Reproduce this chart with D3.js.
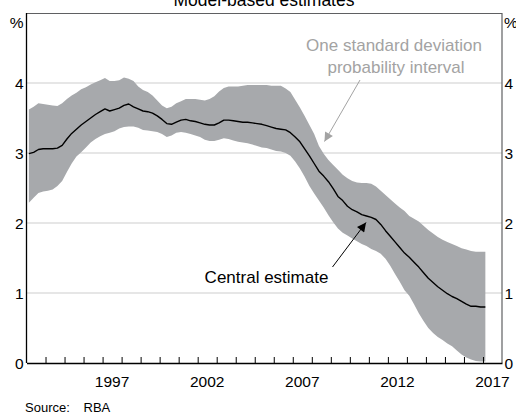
<!DOCTYPE html>
<html>
<head>
<meta charset="utf-8">
<script src="https://cdn.jsdelivr.net/npm/d3@7"></script>
<style>
  html, body { margin: 0; padding: 0; background: #fff; }
  svg { display: block; font-family: Arial, "Liberation Sans", sans-serif; }
</style>
</head>
<body>
<svg id="chart" width="516" height="415"></svg>
<script>
// Quarterly, 1993 Q1 to 2017 Q1
const startYear = 1993;
const central = [
  2.99,3.01,3.05,3.06,3.06,3.06,3.07,3.11,3.20,3.28,3.34,3.40,3.45,3.50,3.55,3.59,
  3.63,3.60,3.62,3.64,3.68,3.70,3.66,3.63,3.60,3.59,3.57,3.53,3.48,3.42,3.41,3.44,
  3.47,3.48,3.46,3.45,3.43,3.41,3.40,3.40,3.43,3.47,3.47,3.46,3.45,3.44,3.44,3.43,
  3.42,3.41,3.39,3.37,3.35,3.34,3.33,3.29,3.23,3.16,3.06,2.96,2.85,2.74,2.67,2.59,
  2.49,2.38,2.32,2.24,2.19,2.16,2.12,2.10,2.08,2.05,1.98,1.89,1.81,1.73,1.65,1.57,
  1.51,1.44,1.37,1.29,1.21,1.15,1.09,1.04,0.99,0.95,0.92,0.88,0.84,0.81,0.81,0.80,
  0.80
];
const upper = [
  3.62,3.66,3.71,3.70,3.69,3.68,3.67,3.71,3.77,3.82,3.86,3.91,3.94,3.98,4.01,4.04,
  4.07,4.03,4.03,4.04,4.08,4.06,4.03,3.95,3.90,3.87,3.82,3.75,3.68,3.64,3.66,3.71,
  3.74,3.77,3.77,3.77,3.76,3.75,3.77,3.81,3.88,3.93,3.95,3.95,3.95,3.96,3.97,3.97,
  3.97,3.97,3.97,3.96,3.96,3.96,3.92,3.87,3.76,3.65,3.53,3.40,3.27,3.10,2.99,2.90,
  2.83,2.76,2.69,2.64,2.60,2.58,2.57,2.57,2.56,2.52,2.46,2.40,2.34,2.28,2.22,2.17,
  2.10,2.06,2.02,1.96,1.90,1.85,1.80,1.76,1.73,1.70,1.67,1.64,1.62,1.60,1.59,1.59,
  1.59
];
const lower = [
  2.29,2.36,2.43,2.45,2.46,2.48,2.53,2.60,2.73,2.85,2.95,3.01,3.08,3.15,3.20,3.24,
  3.27,3.29,3.31,3.35,3.37,3.38,3.38,3.36,3.33,3.32,3.31,3.30,3.27,3.23,3.25,3.29,
  3.30,3.29,3.27,3.25,3.23,3.19,3.17,3.17,3.19,3.21,3.20,3.18,3.16,3.15,3.14,3.12,
  3.10,3.08,3.07,3.05,3.03,3.02,3.00,2.96,2.88,2.78,2.66,2.53,2.42,2.32,2.22,2.11,
  2.01,1.92,1.86,1.82,1.78,1.74,1.70,1.67,1.63,1.60,1.56,1.49,1.39,1.27,1.16,1.04,
  0.96,0.84,0.71,0.60,0.50,0.43,0.37,0.33,0.28,0.24,0.18,0.12,0.08,0.05,0.03,0.02,
  0.02
];
const yTicks = [0, 1, 2, 3, 4];
const xLabels = [1997, 2002, 2007, 2012, 2017];
const title = "Model-based estimates";
const bandLabel = ["One standard deviation", "probability interval"];
const lineLabel = "Central estimate";
const sourceText = ["Source:", "RBA"];

// time (decimal year, mid-quarter) for each observation
const times = central.map((_, i) => startYear + i / 4 + 0.125);
const rows = times.map((t, i) => ({ t, c: central[i], u: upper[i], l: lower[i] }));

const svg = d3.select("#chart");
const L = 26.5, R = 502, T = 13, B = 363;
const x = d3.scaleLinear().domain([1993, 2018]).range([L, R]);
const y = d3.scaleLinear().domain([0, 5]).range([B, T]);

const tickFont = "15.5px";
const bandColor = "#a7a9ac";
const annoGrey = "#a3a3a3";

// gridlines
svg.append("g").selectAll("line").data(yTicks.filter(d => d > 0)).join("line")
  .attr("x1", L).attr("x2", R)
  .attr("y1", d => y(d)).attr("y2", d => y(d))
  .attr("stroke", "#cdcdcd").attr("stroke-width", 1.2);

// band
svg.append("path").datum(rows)
  .attr("d", d3.area().x(d => x(d.t)).y0(d => y(d.l)).y1(d => y(d.u)))
  .attr("fill", bandColor);

// central line
svg.append("path").datum(rows)
  .attr("d", d3.line().x(d => x(d.t)).y(d => y(d.c)))
  .attr("fill", "none").attr("stroke", "#000").attr("stroke-width", 1.4)
  .attr("stroke-linejoin", "round");

// frame
svg.append("line").attr("x1", L).attr("x2", R).attr("y1", T + 0.5).attr("y2", T + 0.5)
  .attr("stroke", "#5f6062").attr("stroke-width", 1.2);
svg.append("line").attr("x1", R).attr("x2", R).attr("y1", T).attr("y2", B)
  .attr("stroke", "#5f6062").attr("stroke-width", 1.2);
svg.append("line").attr("x1", L).attr("x2", L).attr("y1", T).attr("y2", B)
  .attr("stroke", "#000").attr("stroke-width", 1.3);

// bottom axis (ticks inside at year boundaries)
const xAxis = d3.axisBottom(x)
  .tickValues(d3.range(1994, 2018))
  .tickSizeInner(-6).tickSizeOuter(0)
  .tickFormat("");
const gx = svg.append("g").attr("transform", `translate(0,${B})`).call(xAxis);
gx.select(".domain").attr("stroke", "#000").attr("stroke-width", 1.3);
gx.selectAll(".tick line").attr("stroke", "#000").attr("stroke-width", 1);

svg.append("g").selectAll("text").data(xLabels).join("text")
  .attr("x", d => x(d + 0.5)).attr("y", 387)
  .attr("text-anchor", "middle").attr("font-size", tickFont).attr("fill", "#000")
  .text(d => d);

// y labels left and right
svg.append("g").selectAll("text").data(yTicks).join("text")
  .attr("x", 23.5).attr("y", d => y(d) + 5.5)
  .attr("text-anchor", "end").attr("font-size", tickFont).text(d => d);
svg.append("g").selectAll("text").data(yTicks).join("text")
  .attr("x", 504.5).attr("y", d => y(d) + 5.5)
  .attr("text-anchor", "start").attr("font-size", tickFont).text(d => d);
svg.append("text").attr("x", 23.5).attr("y", 27.5).attr("text-anchor", "end")
  .attr("font-size", tickFont).text("%");
svg.append("text").attr("x", 504).attr("y", 27.5).attr("text-anchor", "start")
  .attr("font-size", tickFont).text("%");

// title
svg.append("text").attr("x", 264).attr("y", 6).attr("text-anchor", "middle")
  .attr("font-size", "17.5px").text(title);

// annotations
const defs = svg.append("defs");
function marker(id, color) {
  defs.append("marker").attr("id", id)
    .attr("viewBox", "0 0 10 10").attr("refX", 10).attr("refY", 5)
    .attr("markerUnits", "userSpaceOnUse")
    .attr("markerWidth", 13).attr("markerHeight", 9).attr("orient", "auto")
    .append("path").attr("d", "M0,0 L10,5 L0,10 Z").attr("fill", color);
}
marker("arrGrey", annoGrey);
marker("arrBlack", "#000");

svg.append("text").attr("x", 394).attr("y", 50.5).attr("text-anchor", "middle")
  .attr("font-size", "17px").attr("fill", annoGrey).text(bandLabel[0]);
svg.append("text").attr("x", 396).attr("y", 72.5).attr("text-anchor", "middle")
  .attr("font-size", "17px").attr("fill", annoGrey).text(bandLabel[1]);
svg.append("line").attr("x1", 360).attr("y1", 80).attr("x2", 324.5).attr("y2", 141.5)
  .attr("stroke", annoGrey).attr("stroke-width", 1).attr("marker-end", "url(#arrGrey)");

svg.append("text").attr("x", 266.5).attr("y", 283).attr("text-anchor", "middle")
  .attr("font-size", "17px").attr("fill", "#000").text(lineLabel);
svg.append("line").attr("x1", 332.5).attr("y1", 267).attr("x2", 366).attr("y2", 222.5)
  .attr("stroke", "#000").attr("stroke-width", 1).attr("marker-end", "url(#arrBlack)");

// source
svg.append("text").attr("x", 25).attr("y", 411.5).attr("font-size", "13px").text(sourceText[0]);
svg.append("text").attr("x", 83.5).attr("y", 411.5).attr("font-size", "13px").text(sourceText[1]);
</script>
</body>
</html>
